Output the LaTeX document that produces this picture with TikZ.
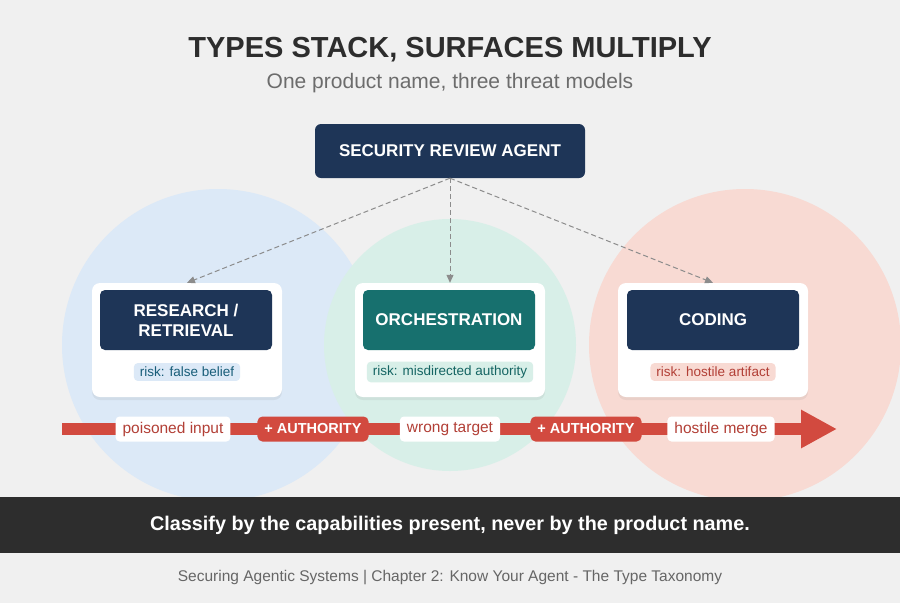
\documentclass[tikz,border=0pt]{standalone}
\usepackage{fontspec}
\setmainfont{Liberation Sans}
\usetikzlibrary{arrows.meta,shadows}
\definecolor{bg}{HTML}{F0F0F0}
\definecolor{navy}{HTML}{1E3557}
\definecolor{teal}{HTML}{17706E}
\definecolor{cblue}{HTML}{DCE9F7}
\definecolor{cteal}{HTML}{D8EFE8}
\definecolor{csal}{HTML}{F8DAD3}
\definecolor{rred}{HTML}{D24A3F}
\definecolor{dark}{HTML}{2D2D2D}
\begin{document}
\begin{tikzpicture}[x=1pt,y=-1pt,
 card/.style={fill=white,rounded corners=8pt,drop shadow={opacity=0.12,shadow xshift=0pt,shadow yshift=-3pt}},
 head/.style={rounded corners=5pt,text=white,font=\bfseries\fontsize{17}{20}\selectfont,align=center,minimum width=172pt,minimum height=60pt,inner sep=0pt},
 pill/.style={rounded corners=4pt,font=\fontsize{13.5}{16}\selectfont,inner xsep=6pt,inner ysep=4pt},
 lab/.style={fill=white,rounded corners=4pt,text=rred!85!black,font=\fontsize{15.5}{18}\selectfont,inner xsep=7pt,minimum height=25pt},
 auth/.style={fill=rred,rounded corners=5pt,text=white,font=\bfseries\fontsize{14.5}{17}\selectfont,inner xsep=7pt,minimum height=25pt},
 dasharr/.style={draw=gray!90,dash pattern=on 5pt off 3pt,line width=1pt,-{Triangle[length=8pt,width=7pt]}}]
\useasboundingbox (0,0) rectangle (900,603);
\fill[bg] (0,0) rectangle (900,603);
\begin{scope}
\clip (0,0) rectangle (900,497);
\fill[cblue] (218,345) circle (156);
\fill[cteal] (450,345) circle (126);
\fill[csal] (745,345) circle (156);
\end{scope}
\node (title) at (450,50) {\bfseries\fontsize{29}{33}\selectfont\color{dark}TYPES STACK, SURFACES MULTIPLY};
\node (sub) at (450,83) {\fontsize{21}{24}\selectfont\color{gray!85!black}One product name, three threat models};
\node[fill=navy,rounded corners=6pt,text=white,font=\bfseries\fontsize{17}{20}\selectfont,minimum width=270pt,minimum height=54pt] (top) at (450,151) {SECURITY REVIEW AGENT};
% cards
\node[card,minimum width=190pt,minimum height=114pt] (c1) at (187,340) {};
\node[card,minimum width=190pt,minimum height=114pt] (c2) at (450,340) {};
\node[card,minimum width=190pt,minimum height=114pt] (c3) at (713,340) {};
\node[head,fill=navy] (h1) at (186,320) {RESEARCH /\\RETRIEVAL};
\node[head,fill=teal] (h2) at (449,320) {ORCHESTRATION};
\node[head,fill=navy] (h3) at (713,320) {CODING};
\node[pill,fill=cblue,text=navy!80!cyan] (r1) at (187,372) {risk: false belief};
\node[pill,fill=cteal,text=teal!90!black] (r2) at (450,372) {risk: misdirected authority};
\node[pill,fill=csal,text=rred!85!black] (r3) at (713,372) {risk: hostile artifact};
\draw[dasharr] (top.south) -- (c1.north);
\draw[dasharr] (top.south) -- (c2.north);
\draw[dasharr] (top.south) -- (c3.north);
% arrow
\coordinate (a0) at (62,429);
\coordinate (a1) at (837,429);
\draw[rred,line width=12pt,-{Triangle[length=36pt,width=36pt]}] (a0) -- (a1);
\node[lab] (l1) at (173,429) {poisoned input};
\node[auth] (l2) at (313,429) {+ AUTHORITY};
\node[lab] (l3) at (450,429) {wrong target};
\node[auth] (l4) at (586,429) {+ AUTHORITY};
\node[lab] (l5) at (721,429) {hostile merge};
% band
\fill[dark] (0,497) rectangle (900,553);
\node[text=white,font=\bfseries\fontsize{19.8}{23}\selectfont] (msg) at (450,525) {Classify by the capabilities present, never by the product name.};
\node[text=gray!80!black,font=\fontsize{15.5}{18}\selectfont] (foot) at (450,578) {Securing Agentic Systems | Chapter 2: Know Your Agent - The Type Taxonomy};
\end{tikzpicture}
\end{document}
